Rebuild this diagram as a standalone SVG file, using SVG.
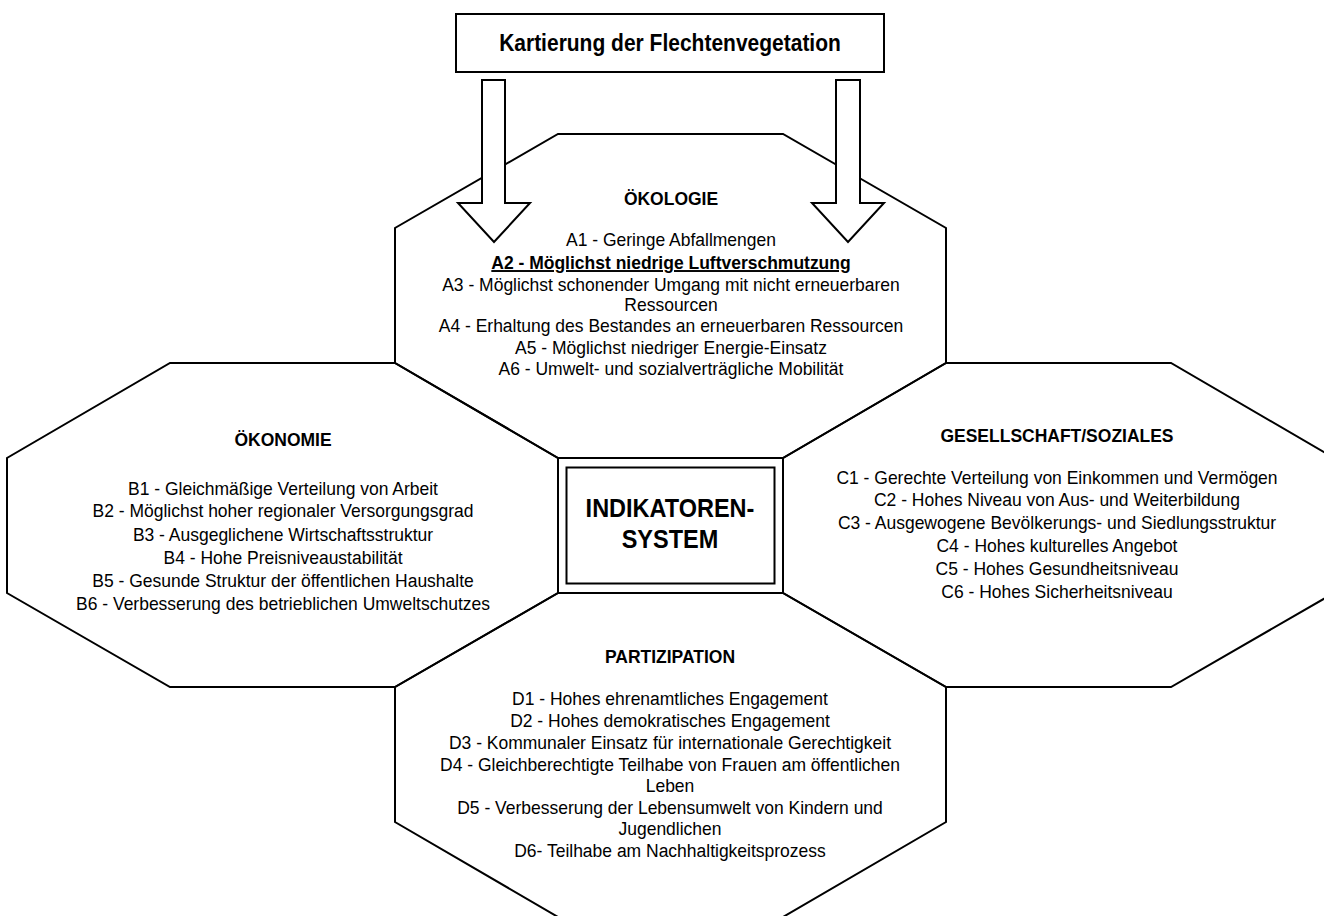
<svg xmlns="http://www.w3.org/2000/svg" width="1324" height="916" viewBox="0 0 1324 916">
<style>
.oct{fill:none;stroke:#000;stroke-width:2;stroke-linejoin:miter}
.box{fill:#fff;stroke:#000;stroke-width:2}
.arr{fill:#fff;stroke:#000;stroke-width:2;stroke-linejoin:miter}
text{font-family:"Liberation Sans",Arial,sans-serif;font-size:17.5px;text-anchor:middle;fill:#000}
.b{font-weight:bold}
.u{text-decoration:underline}
</style>
<rect width="1324" height="916" fill="#fff"/>
<g id="oekologie">
<polygon class="oct" points="558,134 783,134 946,228 946,363 783,458 558,458 395,363 395,228"/>
<g transform="scale(1,1.1)">
<text class="b" x="671" y="186.36">ÖKOLOGIE</text>
<text x="671" y="223.64">A1 - Geringe Abfallmengen</text>
<text class="b u" x="671" y="244.55">A2 - Möglichst niedrige Luftverschmutzung</text>
<text x="671" y="264.55">A3 - Möglichst schonender Umgang mit nicht erneuerbaren</text>
<text x="671" y="282.73">Ressourcen</text>
<text x="671" y="301.82">A4 - Erhaltung des Bestandes an erneuerbaren Ressourcen</text>
<text x="671" y="321.82">A5 - Möglichst niedriger Energie-Einsatz</text>
<text x="671" y="340.91">A6 - Umwelt- und sozialverträgliche Mobilität</text>
</g>
</g>
<g id="oekonomie">
<polygon class="oct" points="170,363 395,363 558,458 558,593 395,687 170,687 7,593 7,458"/>
<g transform="scale(1,1.1)">
<text class="b" x="283" y="405.45">ÖKONOMIE</text>
<text x="283" y="450">B1 - Gleichmäßige Verteilung von Arbeit</text>
<text x="283" y="470">B2 - Möglichst hoher regionaler Versorgungsgrad</text>
<text x="283" y="491.82">B3 - Ausgeglichene Wirtschaftsstruktur</text>
<text x="283" y="512.73">B4 - Hohe Preisniveaustabilität</text>
<text x="283" y="533.64">B5 - Gesunde Struktur der öffentlichen Haushalte</text>
<text x="283" y="554.55">B6 - Verbesserung des betrieblichen Umweltschutzes</text>
</g>
</g>
<g id="gesellschaft">
<polygon class="oct" points="946,363 1171,363 1334,458 1334,593 1171,687 946,687 783,593 783,458"/>
<g transform="scale(1,1.1)">
<text class="b" x="1057" y="401.82">GESELLSCHAFT/SOZIALES</text>
<text x="1057" y="440">C1 - Gerechte Verteilung von Einkommen und Vermögen</text>
<text x="1057" y="460">C2 - Hohes Niveau von Aus- und Weiterbildung</text>
<text x="1057" y="480.91">C3 - Ausgewogene Bevölkerungs- und Siedlungsstruktur</text>
<text x="1057" y="501.82">C4 - Hohes kulturelles Angebot</text>
<text x="1057" y="522.73">C5 - Hohes Gesundheitsniveau</text>
<text x="1057" y="543.64">C6 - Hohes Sicherheitsniveau</text>
</g>
</g>
<g id="partizipation">
<polygon class="oct" points="558,593 783,593 946,687 946,822 783,917 558,917 395,822 395,687"/>
<g transform="scale(1,1.1)">
<text class="b" x="670" y="602.73">PARTIZIPATION</text>
<text x="670" y="640.91">D1 - Hohes ehrenamtliches Engagement</text>
<text x="670" y="660.91">D2 - Hohes demokratisches Engagement</text>
<text x="670" y="680.91">D3 - Kommunaler Einsatz für internationale Gerechtigkeit</text>
<text x="670" y="700.91">D4 - Gleichberechtigte Teilhabe von Frauen am öffentlichen</text>
<text x="670" y="720">Leben</text>
<text x="670" y="740">D5 - Verbesserung der Lebensumwelt von Kindern und</text>
<text x="670" y="759.09">Jugendlichen</text>
<text x="670" y="779.09">D6- Teilhabe am Nachhaltigkeitsprozess</text>
</g>
</g>
<g id="indikatorensystem">
<rect class="box" x="566.5" y="467.5" width="208" height="116"/>
<g transform="scale(1,1.1)">
<text class="b" x="670" y="470" style="font-size:23.5px">INDIKATOREN-</text>
<text class="b" x="670" y="498.18" style="font-size:23.5px">SYSTEM</text>
</g>
</g>
<g id="kartierung">
<rect class="box" x="456" y="14" width="428" height="58"/>
<g transform="scale(1,1.1)">
<text class="b" x="670" y="46.36" style="font-size:21px">Kartierung der Flechtenvegetation</text>
</g>
</g>
<g id="connectors">
<path class="arr" d="M482,80 H505 V203 H530 L494,242 L458,203 H482 Z"/>
<path class="arr" d="M836,80 H860 V203 H884 L848,242 L812,203 H836 Z"/>
</g>
</svg>
